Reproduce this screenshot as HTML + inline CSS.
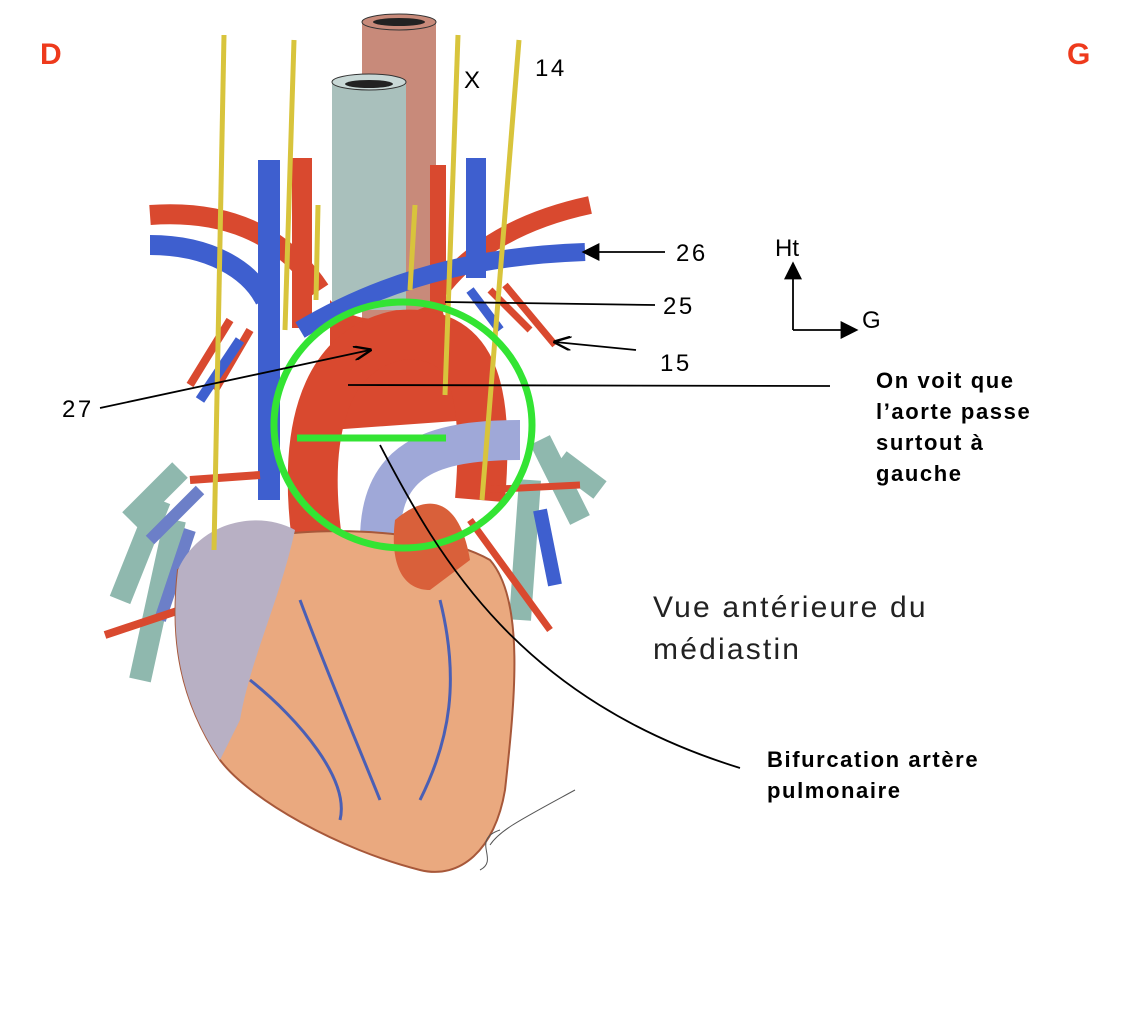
<!DOCTYPE html>
<html><head><meta charset="utf-8"><style>
body{margin:0;background:#fff;width:1140px;height:1030px;overflow:hidden;font-family:"Liberation Sans",Arial,sans-serif}
</style></head><body>
<svg width="1140" height="1030" viewBox="0 0 1140 1030" xmlns="http://www.w3.org/2000/svg" font-family="Liberation Sans, Arial, sans-serif">
<defs>
<marker id="ar" markerWidth="10" markerHeight="8" refX="9" refY="4" orient="auto"><path d="M0,0 L10,4 L0,8" fill="none" stroke="#000" stroke-width="1.3"/></marker>
<marker id="ab" markerWidth="10" markerHeight="10" refX="8" refY="5" orient="auto"><path d="M0,0 L10,5 L0,10 Z" fill="#000"/></marker>
</defs>
<!-- esophagus -->
<rect x="362" y="20" width="74" height="300" fill="#c88a7a"/>
<ellipse cx="399" cy="22" rx="37" ry="8" fill="#c88a7a" stroke="#333"/>
<ellipse cx="399" cy="22" rx="26" ry="4" fill="#222"/>
<!-- trachea -->
<rect x="332" y="80" width="74" height="230" fill="#a9c0bc"/>
<ellipse cx="369" cy="82" rx="37" ry="8" fill="#c8d8d6" stroke="#333"/>
<ellipse cx="369" cy="84" rx="24" ry="4" fill="#222"/>
<!-- upper vessels -->
<path d="M150,215 C220,210 280,230 320,290" stroke="#d9492f" stroke-width="20" fill="none"/>
<path d="M590,205 C520,220 470,250 440,290" stroke="#d9492f" stroke-width="18" fill="none"/>
<rect x="292" y="158" width="20" height="170" fill="#d9492f"/>
<rect x="430" y="165" width="16" height="140" fill="#d9492f"/>
<path d="M330,300 C360,330 400,320 440,300 L470,420 L330,430 Z" fill="#d9492f"/>
<path d="M150,245 C210,245 250,270 265,300" stroke="#3e5fcf" stroke-width="20" fill="none"/>
<path d="M585,252 C500,255 400,270 300,330" stroke="#3e5fcf" stroke-width="18" fill="none"/>
<rect x="258" y="160" width="22" height="340" fill="#3e5fcf"/>
<rect x="466" y="158" width="20" height="120" fill="#3e5fcf"/>
<path d="M230,320 L190,385 M250,330 L215,390" stroke="#d9492f" stroke-width="8" fill="none"/>
<path d="M240,340 L200,400" stroke="#3e5fcf" stroke-width="10"/>
<path d="M490,290 L530,330 M505,285 L555,345" stroke="#d9492f" stroke-width="7" fill="none"/>
<path d="M470,290 L500,330" stroke="#3e5fcf" stroke-width="9"/>
<path d="M370,340 C400,360 440,345 465,350" stroke="#3e5fcf" stroke-width="6" fill="none"/>
<!-- aorta -->
<path d="M320,560 C300,440 320,350 400,335 C470,330 490,380 480,500" stroke="#d9492f" stroke-width="50" fill="none"/>
<!-- pulmonary artery -->
<path d="M380,540 C380,460 430,440 520,440" stroke="#9fa8d8" stroke-width="40" fill="none"/>
<!-- lungs hilum -->
<path d="M180,470 L130,520 M160,500 L120,600 M175,520 L140,680" stroke="#8fb8ae" stroke-width="22" fill="none"/>
<path d="M200,490 L150,540 M190,530 L160,620" stroke="#6c7fc8" stroke-width="12" fill="none"/>
<path d="M540,440 L580,520 M530,480 L520,620 M560,460 L600,490" stroke="#8fb8ae" stroke-width="22" fill="none"/>
<path d="M540,510 L555,585" stroke="#3e5fcf" stroke-width="14"/>
<path d="M480,490 L580,485 M470,520 L550,630" stroke="#d9492f" stroke-width="7"/>
<path d="M105,635 L180,610 M190,480 L260,475" stroke="#d9492f" stroke-width="8"/>
<!-- heart -->
<path d="M178,570 C230,520 420,520 490,560 C525,600 515,700 505,790 C495,850 460,880 420,870 C340,850 250,800 220,760 C180,700 170,640 178,570 Z" fill="#eaa97f" stroke="#a7583a" stroke-width="2"/>
<path d="M178,570 C200,520 260,510 295,530 C280,600 250,660 240,720 L220,760 C180,700 170,640 178,570 Z" fill="#b8b0c4"/>
<path d="M395,520 C430,490 460,500 470,560 L430,590 C400,590 390,560 395,520Z" fill="#d9603a"/>
<path d="M440,600 C460,680 450,740 420,800 M300,600 C330,680 360,750 380,800 M250,680 C300,720 350,780 340,820" stroke="#4a5fb5" stroke-width="3" fill="none"/>
<path d="M490,845 C500,830 520,820 575,790 M480,870 C500,860 470,840 500,830" stroke="#555" stroke-width="1" fill="none"/>
<!-- nerves -->
<g stroke="#d8c43c" stroke-width="5" fill="none">
<line x1="224" y1="35" x2="214" y2="550"/><line x1="294" y1="40" x2="285" y2="330"/>
<line x1="458" y1="35" x2="445" y2="395"/><line x1="519" y1="40" x2="482" y2="500"/>
<line x1="318" y1="205" x2="316" y2="300"/><line x1="415" y1="205" x2="410" y2="290"/>
</g>
<!-- green -->
<ellipse cx="403" cy="425" rx="129" ry="123" fill="none" stroke="#33e433" stroke-width="7"/>
<line x1="297" y1="438" x2="446" y2="438" stroke="#33e433" stroke-width="7"/>
<!-- leader lines -->
<g stroke="#000" stroke-width="1.8" fill="none">
<line x1="665" y1="252" x2="585" y2="252" marker-end="url(#ab)"/>
<line x1="655" y1="305" x2="445" y2="302"/>
<line x1="636" y1="350" x2="555" y2="342" marker-end="url(#ar)"/>
<line x1="100" y1="408" x2="370" y2="350" marker-end="url(#ar)"/>
<line x1="348" y1="385" x2="830" y2="386"/>
<path d="M380,445 C440,560 520,700 740,768"/>
<line x1="793" y1="330" x2="793" y2="265" marker-end="url(#ab)"/>
<line x1="793" y1="330" x2="855" y2="330" marker-end="url(#ab)"/>
</g>
<!-- text -->
<g font-size="24" fill="#000" letter-spacing="2.5">
<text x="464" y="88">X</text><text x="535" y="76">14</text>
<text x="676" y="261">26</text><text x="663" y="314">25</text>
<text x="660" y="371">15</text><text x="62" y="417">27</text>
<text x="775" y="256" letter-spacing="0">Ht</text><text x="862" y="328">G</text>
</g>
<text x="40" y="64" font-size="30" font-weight="bold" fill="#ee3a1c">D</text>
<text x="1067" y="64" font-size="30" font-weight="bold" fill="#ee3a1c">G</text>
<g font-size="22" font-weight="bold" letter-spacing="1.6">
<text x="876" y="388">On voit que</text><text x="876" y="419">l’aorte passe</text>
<text x="876" y="450">surtout à</text><text x="876" y="481">gauche</text>
<text x="767" y="767">Bifurcation artère</text><text x="767" y="798">pulmonaire</text>
</g>
<g font-size="30" fill="#222" letter-spacing="2.2"><text x="653" y="617">Vue antérieure du</text><text x="653" y="659">médiastin</text></g>
</svg>
</body></html>
